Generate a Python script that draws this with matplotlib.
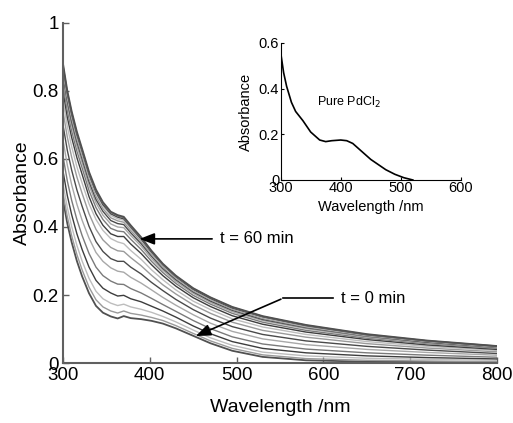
import matplotlib
matplotlib.use("Agg")
import matplotlib.pyplot as plt

plt.rcParams['font.family'] = ['Liberation Sans', 'DejaVu Sans']

# ---- data ----
wavelength = [300, 305, 310, 316, 322, 330, 338, 346, 355, 363, 370, 378, 390, 402,
              415, 430, 450, 470, 495, 530, 580, 650, 720, 800]

curve_00 = [.480, .410, .355, .300, .255, .205, .168, .148, .137, .131, .138, .132, .129, .124, .116, .102, .080, .058, .036, .018, .008, .004, .003, .002]
curve_01 = [.500, .430, .374, .319, .274, .223, .186, .165, .153, .147, .153, .146, .141, .134, .125, .110, .087, .065, .043, .024, .013, .008, .006, .004]
curve_02 = [.528, .457, .401, .346, .300, .249, .211, .189, .176, .169, .173, .165, .158, .149, .137, .121, .097, .074, .052, .032, .021, .014, .011, .008]
curve_03 = [.564, .492, .436, .380, .334, .282, .243, .220, .206, .197, .199, .189, .180, .167, .153, .135, .109, .086, .063, .043, .030, .021, .016, .012]
curve_04 = [.608, .535, .478, .422, .375, .322, .282, .257, .241, .232, .231, .219, .206, .190, .172, .152, .125, .101, .077, .056, .041, .030, .023, .017]
curve_05 = [.656, .582, .524, .467, .420, .367, .325, .299, .280, .270, .267, .252, .235, .215, .193, .170, .142, .117, .093, .071, .054, .040, .031, .023]
curve_06 = [.700, .625, .567, .509, .461, .402, .357, .328, .307, .299, .299, .282, .262, .237, .213, .187, .157, .132, .107, .084, .065, .049, .038, .028]
curve_07 = [.740, .664, .605, .547, .499, .439, .393, .362, .340, .330, .328, .310, .286, .258, .230, .203, .171, .146, .120, .096, .076, .057, .044, .033]
curve_08 = [.772, .695, .636, .577, .529, .468, .422, .390, .366, .356, .351, .331, .305, .274, .245, .215, .182, .157, .130, .106, .084, .063, .049, .037]
curve_09 = [.800, .722, .663, .604, .555, .489, .439, .405, .380, .372, .372, .350, .322, .289, .257, .226, .192, .166, .139, .114, .091, .069, .053, .040]
curve_10 = [.820, .742, .682, .623, .574, .507, .457, .422, .396, .388, .386, .364, .334, .299, .266, .234, .199, .173, .146, .120, .096, .073, .057, .043]
curve_11 = [.836, .757, .698, .638, .589, .522, .471, .435, .409, .400, .398, .375, .344, .307, .273, .240, .205, .178, .151, .125, .101, .076, .059, .045]
curve_12 = [.848, .769, .709, .650, .600, .533, .481, .446, .419, .410, .407, .383, .351, .314, .278, .245, .209, .182, .155, .128, .104, .079, .061, .046]
curve_13 = [.858, .779, .719, .659, .609, .542, .490, .454, .427, .418, .414, .390, .357, .319, .282, .249, .212, .186, .158, .131, .106, .080, .063, .047]
curve_14 = [.866, .786, .727, .667, .617, .549, .498, .461, .434, .424, .420, .395, .362, .323, .286, .252, .215, .188, .161, .134, .108, .082, .064, .048]
curve_15 = [.872, .792, .732, .672, .623, .555, .503, .466, .439, .429, .424, .400, .365, .326, .289, .254, .217, .190, .162, .136, .110, .083, .065, .049]
curve_16 = [.876, .796, .736, .676, .626, .558, .506, .470, .442, .432, .427, .402, .368, .328, .290, .255, .219, .192, .164, .137, .111, .084, .065, .050]
curve_17 = [.880, .800, .740, .680, .630, .562, .510, .473, .445, .435, .430, .405, .370, .330, .292, .257, .220, .193, .165, .138, .112, .085, .066, .050]

curves = [curve_00, curve_01, curve_02, curve_03, curve_04, curve_05, curve_06, curve_07, curve_08,
          curve_09, curve_10, curve_11, curve_12, curve_13, curve_14, curve_15, curve_16, curve_17]

inset_wavelength = [300, 305, 310, 318, 325, 337, 350, 365, 375, 385, 400, 410, 420, 435, 450, 460, 475, 490, 505, 520]
inset_absorbance = [.56, .47, .41, .34, .30, .26, .21, .175, .168, .172, .175, .172, .16, .125, .09, .072, .045, .025, .01, .0]

main_xticks = [300, 400, 500, 600, 700, 800]
main_yticks = [0, 0.2, 0.4, 0.6, 0.8, 1.0]
main_yticklabels = ['0', '0.2', '0.4', '0.6', '0.8', '1']
inset_xticks = [300, 400, 500, 600]
inset_yticks = [0, 0.2, 0.4, 0.6]
inset_yticklabels = ['0', '0.2', '0.4', '0.6']

# ---- figure ----
fig = plt.figure(figsize=(5.13, 4.23), dpi=100)
ax = fig.add_axes([0.1228, 0.1418, 0.846, 0.804])

palette = ['#4a4a4a', '#9a9a9a', '#bdbdbd', '#3d3d3d', '#7a7a7a', '#a8a8a8']
for i, c in enumerate(curves):
    col = palette[i % len(palette)]
    lw = 1.0
    if i == 0 or i == len(curves) - 1:
        col = '#505050'
        lw = 1.3
    ax.plot(wavelength, c, color=col, lw=lw, zorder=2 + i * 0.01)

ax.set_xlim(300, 800)
ax.set_ylim(0, 1)
ax.set_xticks(main_xticks)
ax.set_yticks(main_yticks)
ax.set_yticklabels(main_yticklabels)
for s in ['top', 'right']:
    ax.spines[s].set_visible(False)
for s in ['left', 'bottom']:
    ax.spines[s].set_color('#606060')
    ax.spines[s].set_linewidth(1.5)
ax.tick_params(direction='in', length=4, width=1, color='#606060', labelsize=13.5, pad=3)
ax.set_xlabel('Wavelength /nm', fontsize=14, labelpad=11)
ax.set_ylabel('Absorbance', fontsize=14, labelpad=1)

# annotations
ax.annotate('', xy=(385, 0.365), xytext=(475, 0.365),
            arrowprops=dict(arrowstyle='-|>,head_length=0.9,head_width=0.35', color='black', lw=1.2))
ax.text(481, 0.365, 't = 60 min', fontsize=12, va='center', ha='left')

ax.plot([554, 611], [0.191, 0.191], color='black', lw=1.2)
ax.annotate('', xy=(450, 0.076), xytext=(554, 0.191),
            arrowprops=dict(arrowstyle='-|>,head_length=0.9,head_width=0.35', color='black', lw=1.2))
ax.text(620, 0.191, 't = 0 min', fontsize=12, va='center', ha='left')

# ---- inset ----
ins = fig.add_axes([0.547, 0.5745, 0.3515, 0.324])
ins.plot(inset_wavelength, inset_absorbance, color='black', lw=1.2)
ins.set_xlim(300, 600)
ins.set_ylim(0, 0.6)
ins.set_xticks(inset_xticks)
ins.set_yticks(inset_yticks)
ins.set_yticklabels(inset_yticklabels)
for s in ['top', 'right']:
    ins.spines[s].set_visible(False)
ins.tick_params(direction='in', length=2, width=0.8, labelsize=10.5, pad=1)
ins.set_xlabel('Wavelength /nm', fontsize=10.5, labelpad=3)
ins.set_ylabel('Absorbance', fontsize=10.5, labelpad=4)
ins.text(360, 0.34, 'Pure PdCl$_2$', fontsize=9, ha='left', va='center')

fig.savefig('out.png', dpi=100)
